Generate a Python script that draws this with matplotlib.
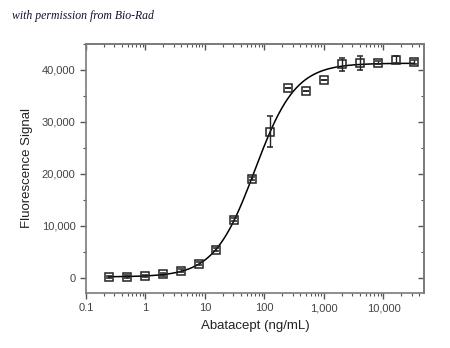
import matplotlib.pyplot as plt
from matplotlib.ticker import FuncFormatter, LogLocator, MultipleLocator, NullFormatter
import numpy as np

# Abatacept dose series (ng/mL) and measured signal
conc = [0.244, 0.488, 0.977, 1.95, 3.91, 7.81, 15.6, 31.25, 62.5, 125,
        250, 500, 1000, 2000, 4000, 8000, 16000, 32000]
signal = [200, 250, 400, 700, 1400, 2700, 5400, 11200, 19100, 28100,
          36600, 36000, 38100, 41100, 41300, 41400, 42000, 41500]
err = [250, 250, 250, 250, 250, 300, 300, 300, 350, 3000,
       0, 0, 0, 1200, 1300, 300, 600, 400]

# 4PL fit parameters (bottom, top, EC50, hill)
fit_bottom = 200
fit_top = 41300
fit_ec50 = 69
fit_hill = 1.27

plt.rcParams['font.family'] = ['Liberation Sans', 'DejaVu Sans']

fig = plt.figure(figsize=(4.5, 3.48), dpi=100)
ax = fig.add_axes([86 / 450, 1 - 293 / 348, (424 - 86) / 450, (293 - 44) / 348])

xs = np.logspace(np.log10(0.24), np.log10(32000), 400)
ys = fit_bottom + (fit_top - fit_bottom) / (1 + (fit_ec50 / xs) ** fit_hill)
ax.plot(xs, ys, color='black', lw=1.1, zorder=2)

ax.errorbar(conc, signal, yerr=err, fmt='s', ms=5.5, mfc='none', mec='#222222',
            mew=1.1, ecolor='#222222', elinewidth=1.0, capsize=2.5, capthick=1.0, zorder=3)

ax.set_xscale('log')
ax.set_xlim(0.1, 48000)
ax.set_ylim(-2900, 45000)

def style_x(a):
    a.xaxis.set_major_locator(LogLocator(base=10, numticks=10))
    a.xaxis.set_minor_locator(LogLocator(base=10, subs=np.arange(2, 10), numticks=10))
    a.xaxis.set_minor_formatter(NullFormatter())

def style_y(a):
    a.yaxis.set_major_locator(MultipleLocator(10000))
    a.yaxis.set_minor_locator(MultipleLocator(5000))

style_x(ax)
style_y(ax)
ax.xaxis.set_major_formatter(FuncFormatter(lambda v, p: '0.1' if v < 1 else f'{int(round(v)):,}'))
ax.yaxis.set_major_formatter(FuncFormatter(lambda v, p: f'{int(v):,}'))

for s in ax.spines.values():
    s.set_color('#7a7a7a')
    s.set_linewidth(1.2)

ax.tick_params(which='both', direction='out', colors='#555555', labelcolor='#444444',
               labelsize=8)
ax.tick_params(which='major', length=4, width=1)
ax.tick_params(which='minor', length=2.5, width=0.8)

# mirrored ticks pointing inward on top and right
top = ax.secondary_xaxis('top')
style_x(top)
top.xaxis.set_major_formatter(NullFormatter())
right = ax.secondary_yaxis('right')
style_y(right)
right.yaxis.set_major_formatter(NullFormatter())
for a in (top, right):
    a.tick_params(which='both', direction='in', colors='#555555')
    a.tick_params(which='major', length=4, width=1)
    a.tick_params(which='minor', length=2.5, width=0.8)
    for s in a.spines.values():
        s.set_color('#7a7a7a')
        s.set_linewidth(1.2)

ax.set_xlabel('Abatacept (ng/mL)', fontsize=9.5, color='#222222', labelpad=5)
ax.set_ylabel('Fluorescence Signal', fontsize=9.5, color='#222222', labelpad=6)

fig.text(12 / 450, 1 - 16 / 348, 'with permission from Bio-Rad', fontsize=8.5,
         family='Liberation Serif', style='italic', va='center', color='#111133')

fig.savefig('out.png', dpi=100)
